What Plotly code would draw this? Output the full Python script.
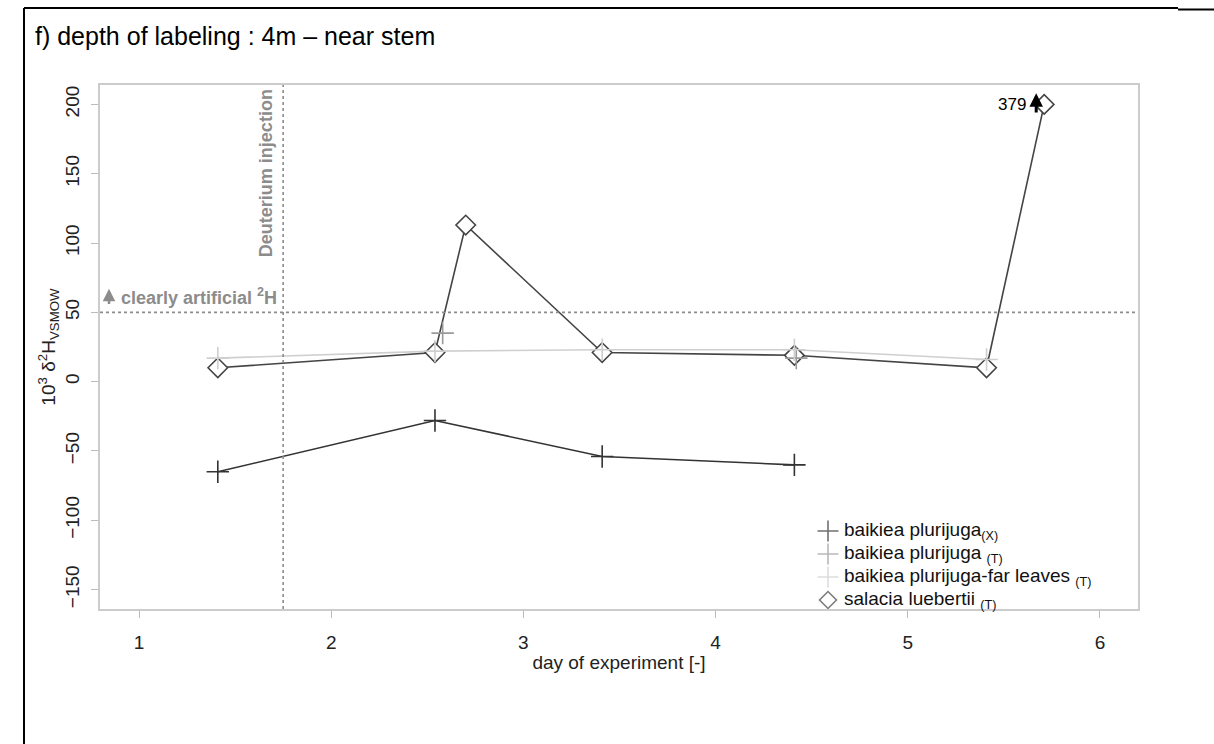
import plotly.graph_objects as go

# ---- data -------------------------------------------------------------
x_days = [1.41, 2.54, 3.41, 4.41]
x_vals = [-65, -28, -54, -60]                  # baikiea plurijuga (X)

t_days = [2.58, 4.42]
t_vals = [35, 17]                              # baikiea plurijuga (T)

far_days = [1.41, 2.54, 3.41, 4.41, 5.41]
far_vals = [17, 22, 23, 23, 16]                # baikiea plurijuga - far leaves (T)

sal_days = [1.41, 2.54, 2.70, 3.41, 4.41, 5.41, 5.71]
sal_vals = [10, 21, 113, 21, 19, 10, 379]      # salacia luebertii (T)

x_ticks = [1, 2, 3, 4, 5, 6]
y_ticks = [-150, -100, -50, 0, 50, 100, 150, 200]

legend_names = ["baikiea plurijuga", "baikiea plurijuga ",
                "baikiea plurijuga-far leaves ", "salacia luebertii "]
legend_subs = ["(X)", "(T)", "(T)", "(T)"]

injection_day = 1.75
artificial_threshold = 50
y_cap = 200                                    # values above are drawn at the top with a label

# ---- layout geometry (pixels) ----------------------------------------
W, H = 1214, 744
L, R, T, B = 100, 1138, 85, 609
pw, ph = R - L, B - T


def px(xp):
    return (xp - L) / pw


def py(yp):
    return (B - yp) / ph


FONT = "Arial, Liberation Sans, sans-serif"
C_X = "#333333"
C_T = "#9a9a9a"
C_FAR = "#cfcfcf"
C_SAL = "#444444"
C_REF = "#8c8c8c"

sal_plot = [min(v, y_cap) for v in sal_vals]

fig = go.Figure()

# far-leaves line (drawn first so the diamonds sit above it)
fig.add_trace(go.Scatter(x=far_days, y=far_vals, mode="lines",
                         line=dict(color=C_FAR, width=1.6),
                         showlegend=False, hoverinfo="skip"))

# salacia line + diamonds
fig.add_trace(go.Scatter(x=sal_days, y=sal_plot, mode="lines",
                         line=dict(color=C_SAL, width=1.6),
                         showlegend=False, hoverinfo="skip"))
fig.add_trace(go.Scatter(x=sal_days, y=sal_plot, mode="markers",
                         marker=dict(symbol="diamond", size=15, color="white",
                                     line=dict(color=C_SAL, width=1.6)),
                         showlegend=False, hoverinfo="skip"))

# X series line
fig.add_trace(go.Scatter(x=x_days, y=x_vals, mode="lines",
                         line=dict(color=C_X, width=1.6),
                         showlegend=False, hoverinfo="skip"))

# plus markers of the three baikiea series
plus_series = [(x_days, x_vals, C_X), (t_days, t_vals, C_T), (far_days, far_vals, C_FAR)]
for days, vals, col in plus_series:
    fig.add_trace(go.Scatter(x=days, y=vals, mode="markers",
                             marker=dict(symbol="cross-thin-open", size=16, color=col,
                                         line=dict(color=col, width=1.6)),
                             showlegend=False))

# ---- compact key in the lower right corner ----------------------------
key_rows = [531, 554, 577, 600]
key_symbols = ["cross-thin-open", "cross-thin-open", "cross-thin-open", "diamond-open"]
key_sizes = [15, 15, 15, 13]
key_colors = [C_X, C_T, C_FAR, C_SAL]
fig.add_trace(go.Scatter(x=[px(828)] * 4, y=[py(r) for r in key_rows],
                         xaxis="x2", yaxis="y2", mode="markers",
                         marker=dict(symbol=key_symbols, size=key_sizes, color=key_colors,
                                     line=dict(color=key_colors, width=1.6)),
                         showlegend=False, hoverinfo="skip", cliponaxis=False))

# reference lines
fig.add_shape(type="line", xref="x", yref="paper", x0=injection_day, x1=injection_day,
              y0=0, y1=1, line=dict(color=C_REF, width=1.6, dash="dot"))
fig.add_shape(type="line", xref="paper", yref="y", x0=0, x1=1,
              y0=artificial_threshold, y1=artificial_threshold,
              line=dict(color=C_REF, width=1.6, dash="dot"))

# figure frame lines
fig.add_shape(type="line", xref="paper", yref="paper",
              x0=px(24), x1=px(24), y0=py(8), y1=py(760),
              line=dict(color="black", width=2))
fig.add_shape(type="line", xref="paper", yref="paper",
              x0=px(24), x1=px(1178), y0=py(8), y1=py(8),
              line=dict(color="black", width=2))
fig.add_shape(type="line", xref="paper", yref="paper",
              x0=px(1178), x1=px(1230), y0=py(9.5), y1=py(9.5),
              line=dict(color="black", width=2))

annotations = []
# title
annotations.append(dict(xref="paper", yref="paper", x=px(33), y=py(36),
                        xanchor="left", yanchor="middle", showarrow=False,
                        text="f) depth of labeling : 4m \u2013 near stem",
                        font=dict(family=FONT, size=25, color="black")))
# key labels (name on the row, small subscript just below the baseline)
for row, name, sub in zip(key_rows, legend_names, legend_subs):
    annotations.append(dict(xref="paper", yref="paper", x=px(842), y=py(row),
                            xanchor="left", yanchor="middle", showarrow=False,
                            text=name + "<span style='font-size:18px'><sub>" + sub + "</sub></span>",
                            font=dict(family=FONT, size=19, color="#111111")))
# injection label
annotations.append(dict(xref="x", yref="paper", x=injection_day, y=1,
                        xanchor="right", yanchor="top", xshift=-5, yshift=-2,
                        textangle=-90, showarrow=False,
                        text="<b>Deuterium injection</b>",
                        font=dict(family=FONT, size=18, color=C_REF)))
# threshold label with arrow
x0_day = x_ticks[0] + (109 - 139) / 192.2
annotations.append(dict(xref="x", yref="y", axref="x", ayref="y",
                        x=x0_day, y=artificial_threshold + 17,
                        ax=x0_day, ay=artificial_threshold + 5,
                        text="", showarrow=True, arrowhead=2, arrowsize=1,
                        arrowwidth=2.5, arrowcolor=C_REF))
annotations.append(dict(xref="x", yref="y", x=x0_day, y=artificial_threshold,
                        xanchor="left", yanchor="bottom", xshift=10, yshift=2,
                        showarrow=False,
                        text="<b>clearly artificial <sup>2</sup>H</b>",
                        font=dict(family=FONT, size=18, color=C_REF)))
# off-scale value label
last_day = sal_days[-1]
arrow_day = last_day - 8 / 192.2
annotations.append(dict(xref="x", yref="y", axref="x", ayref="y",
                        x=arrow_day, y=y_cap + 8, ax=arrow_day, ay=y_cap - 7,
                        text="", showarrow=True, arrowhead=2, arrowsize=0.9,
                        arrowwidth=3, arrowcolor="black"))
annotations.append(dict(xref="x", yref="y", x=last_day, y=y_cap,
                        xanchor="right", yanchor="middle", xshift=-16,
                        showarrow=False, text=str(sal_vals[-1]),
                        font=dict(family=FONT, size=17, color="black")))

axis_common = dict(showline=True, mirror=True, linecolor="#cccccc", linewidth=1.5,
                   ticks="outside", ticklen=7, tickcolor="#bbbbbb", tickwidth=1.2,
                   showgrid=False, zeroline=False,
                   tickfont=dict(family=FONT, size=19, color="#222222"))

fig.update_layout(
    width=W, height=H,
    margin=dict(l=L, r=W - R, t=T, b=H - B),
    paper_bgcolor="white", plot_bgcolor="white",
    font=dict(family=FONT, color="#222222"),
    xaxis=dict(range=[0.797, 6.198], tickvals=x_ticks, ticklabelstandoff=8,
               title=dict(text="day of experiment [-]", standoff=4,
                          font=dict(family=FONT, size=19, color="#222222")),
               **axis_common),
    yaxis=dict(range=[-164, 214], tickvals=y_ticks, tickangle=-90,
               ticklabelstandoff=5,
               title=dict(text="10<sup>3</sup> \u03b4<sup>2</sup>H<sub>VSMOW</sub>", standoff=1,
                          font=dict(family=FONT, size=19, color="#222222")),
               **axis_common),
    xaxis2=dict(domain=[0, 1], range=[0, 1], overlaying="x", anchor="y2", visible=False),
    yaxis2=dict(domain=[0, 1], range=[0, 1], overlaying="y", anchor="x2", visible=False),
    annotations=annotations,
    showlegend=False,
)

fig.write_html("out.html")
